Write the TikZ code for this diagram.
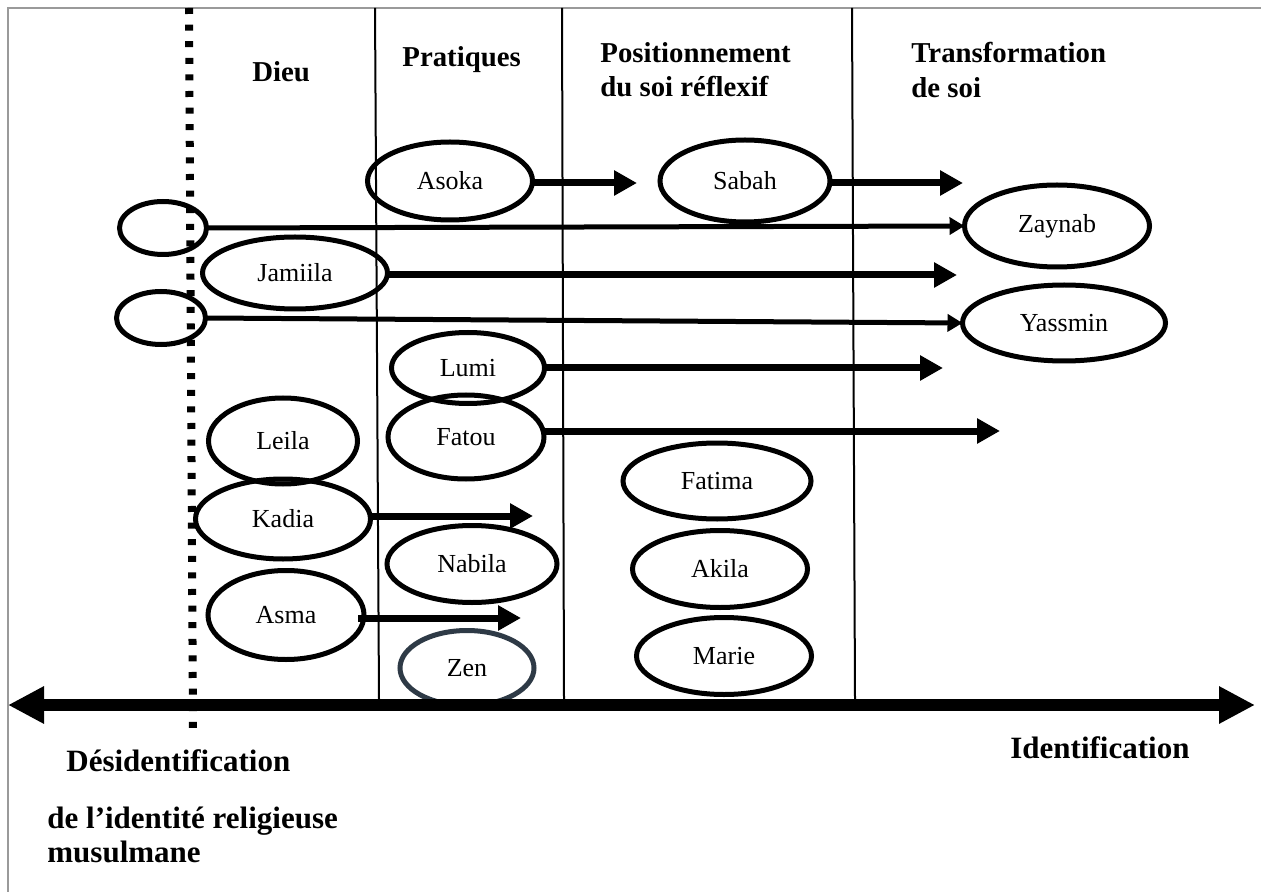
\documentclass[tikz,border=0pt]{standalone}
\usepackage{fontspec}
\setmainfont{Liberation Serif}
\usetikzlibrary{shapes.geometric,arrows.meta}
\definecolor{zengray}{HTML}{2E3A46}
\definecolor{framegray}{HTML}{9A9A9A}
\begin{document}
\begin{tikzpicture}[x=0.5pt,y=-0.5pt,
 person/.style={ellipse,draw,line width=2.5pt,inner sep=0pt,outer sep=0pt,font=\fontsize{13}{15}\selectfont},
 headtxt/.style={font=\bfseries\fontsize{14.4}{17}\selectfont,anchor=base west,inner sep=0pt},
 foottxt/.style={font=\bfseries\fontsize{15.5}{18}\selectfont,anchor=base west,inner sep=0pt},
 colline/.style={line width=1pt},
 thickarrow/.style={line width=3.5pt,-{Triangle[length=11.5pt,width=12pt]}},
 thinarrow/.style={line width=2.5pt,-{Triangle[length=7.5pt,width=8.5pt]}},
 axisline/.style={line width=6pt,{Triangle[length=18pt,width=17.5pt]}-{Triangle[length=18pt,width=17.5pt]}},
 dotline/.style={line width=4pt,dash pattern=on 3pt off 5.3pt},
]
\useasboundingbox (0,0) rectangle (1261,892);
% frame
\draw[framegray,line width=1pt] (8,892) -- (8,8) -- (1261,8);
% column lines
\draw[colline] (375,8) -- (379,700);
\draw[colline] (562,8) -- (564,700);
\draw[colline] (852,8) -- (855,700);
% dotted line
\draw[dotline] (189,8) -- (193,732);
% headers
\node[headtxt] (hdieu) at (252,82) {Dieu};
\node[headtxt] (hprat) at (402,67) {Pratiques};
\node[headtxt] (hpos1) at (600,63) {Positionnement};
\node[headtxt] (hpos2) at (600,97) {du soi réflexif};
\node[headtxt] (htra1) at (911,63) {Transformation};
\node[headtxt] (htra2) at (911,98) {de soi};
% people
\node[person,minimum width=43.5pt,minimum height=26.5pt] (e1) at (163,228) {};
\node[person,minimum width=44.5pt,minimum height=26.5pt] (e2) at (161,318) {};
\node[person,minimum width=92.5pt,minimum height=36pt] (jamiila) at (295,273) {Jamiila};
\node[person,minimum width=82.5pt,minimum height=39pt] (asoka) at (450,181) {Asoka};
\node[person,minimum width=85pt,minimum height=41pt] (sabah) at (745,181) {Sabah};
\node[person,minimum width=92.5pt,minimum height=41pt] (zaynab) at (1057,226) {Zaynab};
\node[person,minimum width=101.5pt,minimum height=38pt] (yassmin) at (1064,323) {Yassmin};
\node[person,minimum width=76.5pt,minimum height=35.5pt] (lumi) at (468,368) {Lumi};
\node[person,minimum width=78pt,minimum height=42pt] (fatou) at (466,437) {Fatou};
\node[person,minimum width=74.5pt,minimum height=43pt] (leila) at (283,441) {Leila};
\node[person,minimum width=87.5pt,minimum height=40pt] (kadia) at (283,519) {Kadia};
\node[person,minimum width=85pt,minimum height=38.5pt] (nabila) at (472,564) {Nabila};
\node[person,minimum width=78pt,minimum height=44.5pt] (asma) at (286,615) {Asma};
\node[person,draw=zengray,minimum width=67pt,minimum height=37.5pt] (zen) at (467,668) {Zen};
\node[person,minimum width=94pt,minimum height=38pt] (fatima) at (717,481) {Fatima};
\node[person,minimum width=87.5pt,minimum height=38.5pt] (akila) at (720,569) {Akila};
\node[person,minimum width=87.5pt,minimum height=38.5pt] (marie) at (724,656) {Marie};
% arrow end points
\coordinate (asokaend) at (637,183);
\coordinate (sabahend) at (963,183);
\coordinate (jamiilaend) at (957,275);
\coordinate (lumiend) at (943,368);
\coordinate (fatouend) at (1000,431);
\coordinate (kadiaend) at (533,516);
\coordinate (asmaend) at (521,618);
% arrows
\draw[thickarrow] (asoka.east |- asokaend) -- (asokaend);
\draw[thickarrow] (sabah.east |- sabahend) -- (sabahend);
\draw[thinarrow] (e1.east) -- (zaynab.west);
\draw[thickarrow] (jamiila.east |- jamiilaend) -- (jamiilaend);
\draw[thinarrow] (e2.east) -- (yassmin.west);
\draw[thickarrow] (lumi.east |- lumiend) -- (lumiend);
\draw[thickarrow] (fatou.east |- fatouend) -- (fatouend);
\draw[thickarrow] (kadia.east |- kadiaend) -- (kadiaend);
\draw[thickarrow] ([xshift=-3pt]asma.east |- asmaend) -- (asmaend);
% axis
\coordinate (axl) at (8,705);
\coordinate (axr) at (1255,705);
\draw[axisline] (axl) -- (axr);
% bottom labels
\node[foottxt] (ident) at (1010,758) {Identification};
\node[foottxt] (desid) at (66,771) {Désidentification};
\node[foottxt] (desid2) at (47,828) {de l’identité religieuse};
\node[foottxt] (desid3) at (47,862) {musulmane};
\end{tikzpicture}
\end{document}
